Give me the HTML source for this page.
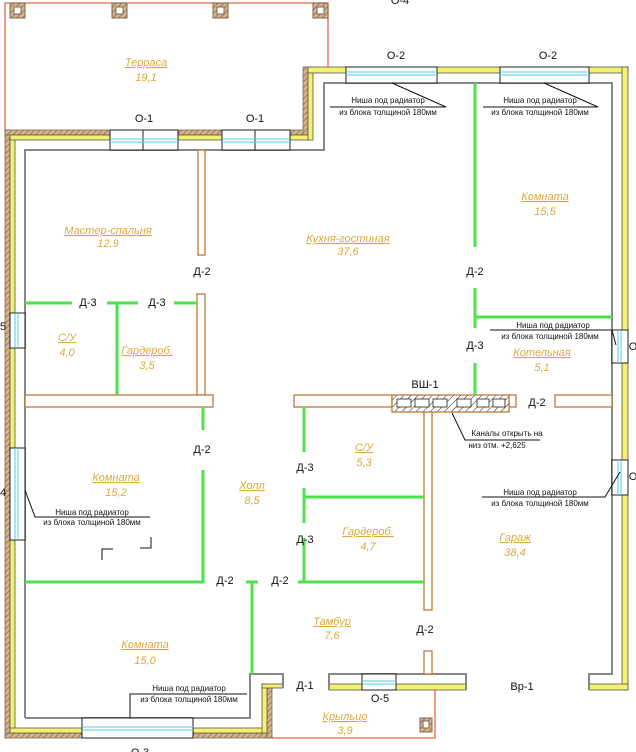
<!DOCTYPE html>
<html><head><meta charset="utf-8"><style>
html,body{margin:0;padding:0;background:#fff;}
svg{display:block;}
text{font-family:"Liberation Sans",sans-serif;}
.b{font-size:11px;fill:#111;text-anchor:middle;}
.g{font-size:11px;fill:#d9aa3c;font-style:italic;text-anchor:middle;}
.n{font-size:8px;fill:#111;text-anchor:middle;}
</style></head><body>
<svg width="636" height="752" viewBox="0 0 636 752" xmlns="http://www.w3.org/2000/svg">
<defs>
<pattern id="h" width="4" height="4" patternUnits="userSpaceOnUse" patternTransform="rotate(45)">
<rect width="4" height="4" fill="#d8b48c"/><line x1="0" y1="0" x2="0" y2="4" stroke="#8a6a4a" stroke-width="1.5"/></pattern>
<pattern id="h2" width="5" height="5" patternUnits="userSpaceOnUse" patternTransform="rotate(45)">
<rect width="5" height="5" fill="#fff"/><line x1="0" y1="0" x2="0" y2="5" stroke="#222" stroke-width="1"/></pattern>
</defs>

<polyline points="5,130 5,3 328,3 328,67" fill="none" stroke="#e06a40" stroke-width="1.3"/>
<g fill="url(#h)" stroke="#7a6a5a" stroke-width="1">
<rect x="10" y="3" width="15" height="15"/><rect x="112" y="3" width="15" height="15"/>
<rect x="213" y="3" width="15" height="15"/><rect x="313" y="3" width="15" height="15"/>
<rect x="420" y="718" width="12" height="14"/>
</g>
<g fill="#fff" stroke="#7a6a5a" stroke-width="1">
<rect x="14" y="7" width="7" height="7"/><rect x="116" y="7" width="7" height="7"/>
<rect x="217" y="7" width="7" height="7"/><rect x="317" y="7" width="7" height="7"/>
<rect x="423" y="721" width="6" height="7"/>
</g>
<polyline points="272,738 435,738 435,690" fill="none" stroke="#e06a40" stroke-width="1.3"/>

<g fill="url(#h)" stroke="#7a6a5a" stroke-width="0.8">
<rect x="5" y="130" width="5" height="608"/>
<rect x="5" y="130" width="303" height="5"/>
<rect x="303" y="67" width="5" height="68"/>
<rect x="5" y="733" width="267" height="5"/>
<rect x="267" y="688" width="5" height="50"/>
</g>
<g fill="#f4f070" stroke="#555" stroke-width="0.8">
<rect x="10" y="135" width="5" height="598"/>
<rect x="10" y="135" width="300" height="5"/>
<rect x="308" y="67" width="5" height="73"/>
<rect x="308" y="67" width="320" height="6"/>
<rect x="622" y="67" width="6" height="623"/>
<rect x="589" y="684" width="39" height="6"/>
<rect x="329" y="684" width="137" height="6"/>
<rect x="10" y="728" width="257" height="5"/>
<rect x="262" y="684" width="5" height="49"/>
<rect x="262" y="684" width="21" height="4"/>
</g>
<g fill="none" stroke="#888" stroke-width="2">
<polyline points="25,718 25,150 324,150 324,83 612,83 612,674 589,674 589,690"/>
<polyline points="329,690 329,674 466,674 466,690"/>
<polyline points="25,718 250,718 250,674 283,674 283,688"/>
</g>

<g fill="#fff" stroke="#222" stroke-width="1">
<rect x="110" y="130" width="68" height="20"/><rect x="222" y="130" width="68" height="20"/>
<rect x="346" y="67" width="91" height="16"/><rect x="500" y="67" width="89" height="16"/>
<rect x="10" y="313" width="15" height="35"/><rect x="10" y="448" width="15" height="92"/>
<rect x="612" y="330" width="16" height="33"/><rect x="612" y="460" width="16" height="35"/>
<rect x="82" y="718" width="111" height="20"/><rect x="362" y="674" width="34" height="16"/>
<line x1="143" y1="130" x2="143" y2="150"/><line x1="255" y1="130" x2="255" y2="150"/>
</g>
<g stroke="#5bc8e8" stroke-width="1">
<line x1="110" y1="139" x2="178" y2="139"/><line x1="110" y1="142" x2="178" y2="142"/>
<line x1="222" y1="139" x2="290" y2="139"/><line x1="222" y1="142" x2="290" y2="142"/>
<line x1="346" y1="72" x2="437" y2="72"/><line x1="346" y1="75" x2="437" y2="75"/>
<line x1="500" y1="72" x2="589" y2="72"/><line x1="500" y1="75" x2="589" y2="75"/>
<line x1="15" y1="313" x2="15" y2="348"/><line x1="18" y1="313" x2="18" y2="348"/>
<line x1="15" y1="448" x2="15" y2="540"/><line x1="18" y1="448" x2="18" y2="540"/>
<line x1="618" y1="330" x2="618" y2="363"/><line x1="621" y1="330" x2="621" y2="363"/>
<line x1="618" y1="460" x2="618" y2="495"/><line x1="621" y1="460" x2="621" y2="495"/>
<line x1="82" y1="727" x2="193" y2="727"/><line x1="82" y1="730" x2="193" y2="730"/>
<line x1="362" y1="681" x2="396" y2="681"/><line x1="362" y1="684" x2="396" y2="684"/>
</g>

<g fill="#fff" stroke="#c07838" stroke-width="1.3">
<rect x="198" y="150" width="7" height="105"/>
<rect x="197" y="294" width="8" height="101"/>
<rect x="25" y="395" width="188" height="12"/>
<rect x="294" y="395" width="98" height="12"/>
<rect x="509" y="395" width="7" height="12"/>
<rect x="555" y="395" width="57" height="12"/>
<rect x="424" y="411" width="8" height="199"/>
<rect x="424" y="651" width="8" height="23"/>
</g>
<rect x="392" y="395" width="117" height="17" fill="url(#h2)" stroke="#c07838" stroke-width="1.3"/>
<g fill="#fff" stroke="#222" stroke-width="0.8">
<rect x="397" y="399" width="14" height="8"/><rect x="415" y="399" width="14" height="8"/>
<rect x="433" y="399" width="14" height="8"/><rect x="457" y="399" width="14" height="8"/>
<rect x="477" y="399" width="12" height="8"/><rect x="493" y="399" width="12" height="8"/>
</g>

<g fill="none" stroke="#4ee04e" stroke-width="3">
<line x1="25" y1="303" x2="72" y2="303"/>
<line x1="107" y1="303" x2="138" y2="303"/><line x1="117" y1="303" x2="117" y2="395"/>
<line x1="174" y1="303" x2="197" y2="303"/>
<line x1="203" y1="407" x2="203" y2="430"/>
<polyline points="25,582 203,582 203,470"/>
<line x1="246" y1="582" x2="258" y2="582"/><line x1="252" y1="582" x2="252" y2="674"/>
<polyline points="298,582 424,582"/><line x1="304" y1="538" x2="304" y2="582"/>
<line x1="304" y1="407" x2="304" y2="452"/>
<line x1="304" y1="488" x2="304" y2="523"/><line x1="304" y1="497" x2="424" y2="497"/>
<line x1="475" y1="83" x2="475" y2="247"/>
<line x1="475" y1="288" x2="475" y2="328"/><line x1="475" y1="317" x2="612" y2="317"/>
<line x1="475" y1="363" x2="475" y2="395"/>
</g>

<g fill="none" stroke="#111" stroke-width="1">
<polyline points="392,83 446,107 330,107"/>
<polyline points="544,83 598,107 483,107"/>
<polyline points="490,330 612,330 616,345"/>
<polyline points="482,497 605,497 620,472"/>
<polyline points="25,490 35,517 150,517"/>
<polyline points="130,718 130,694 247,694"/>
<polyline points="452,413 465,440 540,440"/>
<polyline points="102,560 102,549 113,549"/>
<polyline points="140,548 151,548 151,537"/>
</g>
<g class="n">
<text x="388" y="103">Ниша под радиатор</text><text x="388" y="115">из блока толщиной 180мм</text>
<text x="540" y="103">Ниша под радиатор</text><text x="540" y="115">из блока толщиной 180мм</text>
<text x="553" y="328">Ниша под радиатор</text><text x="550" y="339">из блока толщиной 180мм</text>
<text x="540" y="495">Ниша под радиатор</text><text x="540" y="506">из блока толщиной 180мм</text>
<text x="92" y="515">Ниша под радиатор</text><text x="92" y="525">из блока толщиной 180мм</text>
<text x="189" y="691">Ниша под радиатор</text><text x="189" y="702">из блока толщиной 180мм</text>
<text x="507" y="436">Каналы открыть на</text><text x="497" y="448">низ отм. +2,625</text>
</g>

<g class="b">
<text x="144" y="122">О-1</text><text x="255" y="122">О-1</text>
<text x="396" y="59">О-2</text><text x="548" y="59">О-2</text>
<text x="202" y="275">Д-2</text><text x="88" y="306">Д-3</text><text x="157" y="306">Д-3</text>
<text x="475" y="275">Д-2</text><text x="475" y="349">Д-3</text>
<text x="425" y="388">ВШ-1</text><text x="537" y="406">Д-2</text>
<text x="202" y="453">Д-2</text><text x="305" y="471">Д-3</text><text x="305" y="543">Д-3</text>
<text x="225" y="584">Д-2</text><text x="280" y="584">Д-2</text><text x="425" y="633">Д-2</text>
<text x="305" y="689">Д-1</text><text x="380" y="702">О-5</text><text x="522" y="690">Вр-1</text>
<text x="3" y="330">5</text><text x="3" y="496">4</text>
<text x="140" y="756">О-3</text><text x="400" y="4">О-4</text><text x="633" y="350">О</text><text x="633" y="480">О</text>
</g>

<g class="g" text-decoration="underline">
<text x="146" y="66">Терраса</text><text x="108" y="234">Мастер-спальня</text>
<text x="348" y="242">Кухня-гостиная</text><text x="545" y="200">Комната</text>
<text x="67" y="341">С/У</text><text x="147" y="354">Гардероб.</text>
<text x="542" y="356">Котельная</text><text x="364" y="451">С/У</text>
<text x="116" y="481">Комната</text><text x="252" y="489">Холл</text>
<text x="368" y="535">Гардероб.</text><text x="515" y="541">Гараж</text>
<text x="332" y="625">Тамбур</text><text x="145" y="648">Комната</text>
<text x="345" y="720">Крыльцо</text>
</g>
<g class="g">
<text x="146" y="81">19,1</text><text x="108" y="247">12,9</text><text x="348" y="255">37,6</text>
<text x="545" y="215">15,5</text><text x="67" y="356">4,0</text><text x="147" y="369">3,5</text>
<text x="542" y="371">5,1</text><text x="364" y="466">5,3</text><text x="116" y="496">15,2</text>
<text x="252" y="504">8,5</text><text x="368" y="550">4,7</text><text x="515" y="556">38,4</text>
<text x="332" y="639">7,6</text><text x="145" y="664">15,0</text><text x="345" y="734">3,9</text>
</g>
</svg>
</body></html>
